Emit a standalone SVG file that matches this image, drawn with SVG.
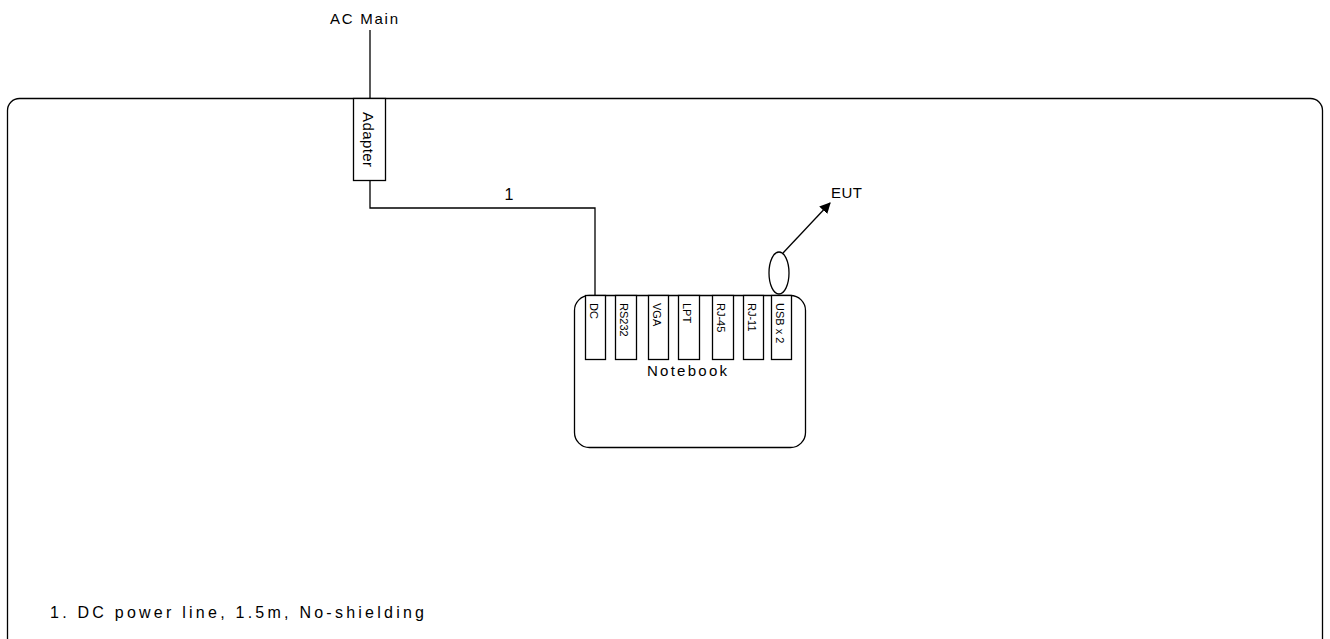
<svg xmlns="http://www.w3.org/2000/svg" width="1330" height="639" viewBox="0 0 1330 639">
<style>
.ln{fill:none;stroke:#000;stroke-width:1.3}
.bx{fill:#fff;stroke:#000;stroke-width:1.3}
.t{font-family:"Liberation Sans",Arial,sans-serif;font-size:15px;fill:#000}
.p{font-family:"Liberation Sans",Arial,sans-serif;font-size:11px;fill:#000}
</style>
<defs>
<marker id="ah" viewBox="0 0 10 10" refX="9" refY="5" markerWidth="11" markerHeight="11" markerUnits="userSpaceOnUse" orient="auto">
<path d="M0,0 L10,5 L0,10 z" fill="#000"/>
</marker>
</defs>
<g id="frame"><rect class="ln" x="7.5" y="98.5" width="1315" height="560" rx="12"/></g>
<g id="connectors">
<line class="ln" x1="370" y1="30" x2="370" y2="98"/>
<polyline class="ln" points="370,180 370,208 595,208 595,296"/>
<line class="ln" x1="783" y1="253" x2="830" y2="203" marker-end="url(#ah)"/>
</g>
<g id="adapter">
<rect class="bx" x="353.5" y="98.5" width="32" height="82"/>
<text class="t" transform="translate(363,112) rotate(90)" textLength="55" lengthAdjust="spacing">Adapter</text>
</g>
<g id="notebook">
<rect class="bx" x="574.5" y="295.5" width="231" height="152" rx="15"/>
<text class="t" x="647" y="376" textLength="80" lengthAdjust="spacing">Notebook</text>
</g>
<g id="ports">
<rect class="bx" x="585.5" y="295.5" width="20" height="64"/>
<text class="p" transform="translate(590,303) rotate(90)">DC</text>
<rect class="bx" x="615.5" y="295.5" width="21" height="64"/>
<text class="p" transform="translate(620,303) rotate(90)">RS232</text>
<rect class="bx" x="648.5" y="295.5" width="20" height="64"/>
<text class="p" transform="translate(653,303) rotate(90)">VGA</text>
<rect class="bx" x="678.5" y="295.5" width="21" height="64"/>
<text class="p" transform="translate(683,303) rotate(90)">LPT</text>
<rect class="bx" x="712.5" y="295.5" width="21" height="64"/>
<text class="p" transform="translate(717,303) rotate(90)">RJ-45</text>
<rect class="bx" x="743.5" y="295.5" width="20" height="64"/>
<text class="p" transform="translate(748,303) rotate(90)">RJ-11</text>
<rect class="bx" x="771.5" y="295.5" width="20" height="64"/>
<text class="p" transform="translate(776,303) rotate(90)">USB x 2</text>
</g>
<g id="usb-cable"><ellipse class="bx" cx="779" cy="273" rx="10" ry="21"/></g>
<g id="labels">
<text class="t" x="330" y="24" textLength="68" lengthAdjust="spacing">AC Main</text>
<text class="t" x="509" y="200" text-anchor="middle" style="font-size:16px">1</text>
<text class="t" x="831" y="198" textLength="31" lengthAdjust="spacing">EUT</text>
<text class="t" x="50" y="618" style="font-size:16px" textLength="374" lengthAdjust="spacing">1. DC power line, 1.5m, No-shielding</text>
</g>
</svg>
